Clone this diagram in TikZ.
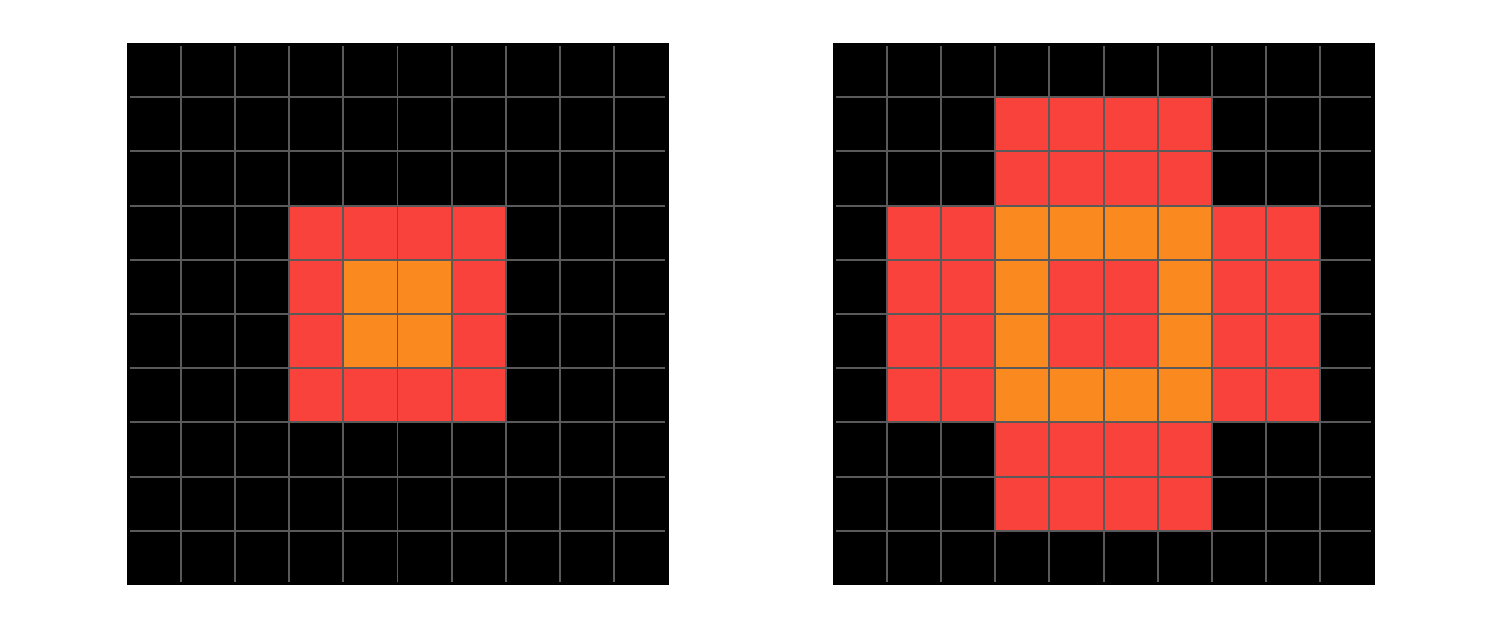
\documentclass[tikz,border=0pt]{standalone}
\usetikzlibrary{calc}
\definecolor{cellred}{RGB}{248,66,59}
\definecolor{cellorange}{RGB}{250,138,32}
\definecolor{gridgray}{RGB}{90,90,90}

\begin{document}
\begin{tikzpicture}[
    x=1.084cm, y=-1.084cm,
    board/.style={fill=black},
    redcell/.style={fill=cellred},
    orangecell/.style={fill=cellorange},
    gridline/.style={draw=gridgray, line width=1.1pt}
]
\useasboundingbox (0,0) rectangle (27.675,11.605);
\coordinate (before) at (2.334,0.793);
\coordinate (after) at (15.36,0.793);
\foreach \g in {before,after} {
    \fill[board] (\g) rectangle ++(10,10);
}
% left board: ring around a 2x2 core
\fill[redcell] ($(before)+(3,3)$) rectangle ++(4,4);
\fill[orangecell] ($(before)+(4,4)$) rectangle ++(2,2);
% right board: cross with an orange ring
\fill[redcell] ($(after)+(3,1)$) rectangle ++(4,8);
\fill[redcell] ($(after)+(1,3)$) rectangle ++(8,4);
\fill[orangecell] ($(after)+(3,3)$) rectangle ++(4,4);
\fill[redcell] ($(after)+(4,4)$) rectangle ++(2,2);
\foreach \g in {before,after} {
    \foreach \k in {1,...,9} {
        \draw[gridline] ($(\g)+(\k,0.06)$) -- ++(0,9.88);
        \draw[gridline] ($(\g)+(0.06,\k)$) -- ++(9.88,0);
    }
}
\end{tikzpicture}
\end{document}
